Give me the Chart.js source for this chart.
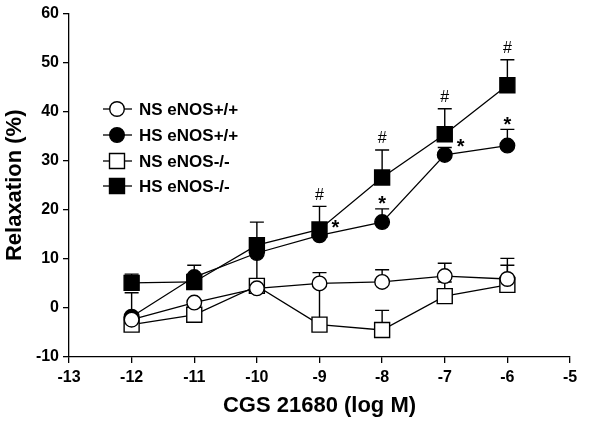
<!DOCTYPE html>
<html>
<head>
<meta charset="utf-8">
<script src="https://cdn.jsdelivr.net/npm/chart.js@4.4.0/dist/chart.umd.min.js"></script>
<style>
  html, body { margin: 0; padding: 0; background: #fff; }
  #wrap { width: 600px; height: 425px; }
</style>
</head>
<body>
<div id="wrap"><canvas id="relaxChart" width="600" height="425"></canvas></div>
<script>
// concentrations (log M)
const doses = [-12, -11, -10, -9, -8, -7, -6];
const seriesNames = ['NS eNOS+/+', 'HS eNOS+/+', 'NS eNOS-/-', 'HS eNOS-/-'];

// mean relaxation (%)
const nsWild = [-2.4, 1.1, 4.0, 5.0, 5.3, 6.5, 5.9];
const hsWild = [-1.8, 6.3, 11.2, 14.8, 17.5, 31.2, 33.1];
const nsKo = [-3.4, -1.4, 4.5, -3.4, -4.5, 2.4, 4.7];
const hsKo = [5.1, 5.3, 12.8, 16.0, 26.6, 35.4, 45.4];

// SEM (upper error bars)
const nsWildSem = [0.5, 0.5, 0.5, 2.2, 2.5, 2.6, 4.2];
const hsWildSem = [4.9, 2.4, 1.0, 1.0, 2.7, 1.5, 3.3];
const nsKoSem = [0.5, 0.5, 7.0, 8.0, 4.0, 2.9, 4.0];
const hsKoSem = [1.8, 1.0, 4.7, 4.7, 5.6, 5.2, 5.2];

// significance marks: '#' on HS eNOS-/-, '*' on HS eNOS+/+
const hashMarks = [false, false, false, true, true, true, true];
const starMarks = ['', '', '', 'right', 'top', 'right', 'top'];

const FONT = "'Liberation Sans', Arial, Helvetica, sans-serif";

const toPoints = (vals) => vals.map((v, i) => ({ x: doses[i], y: v }));

const makeSet = (label, vals, sem, filled, shape) => ({
  label,
  data: toPoints(vals),
  sem,
  borderColor: '#000',
  backgroundColor: filled ? '#000' : '#fff',
  pointBackgroundColor: filled ? '#000' : '#fff',
  pointBorderColor: '#000',
  pointBorderWidth: 1.4,
  pointStyle: shape,
  pointRadius: shape === 'rect' ? 10.6 : 7.3,
  borderWidth: 1.3,
  tension: 0,
  fill: false,
});

const datasets = [
  makeSet(seriesNames[0], nsWild, nsWildSem, false, 'circle'),
  makeSet(seriesNames[1], hsWild, hsWildSem, true, 'circle'),
  makeSet(seriesNames[2], nsKo, nsKoSem, false, 'rect'),
  makeSet(seriesNames[3], hsKo, hsKoSem, true, 'rect'),
];

// error bars under the markers
const errorBars = {
  id: 'errorBars',
  beforeDatasetsDraw(chart) {
    const { ctx } = chart;
    const xs = chart.scales.x;
    const ys = chart.scales.y;
    ctx.save();
    ctx.strokeStyle = '#000';
    ctx.lineWidth = 1.4;
    chart.data.datasets.forEach((ds) => {
      ds.data.forEach((p, i) => {
        const s = ds.sem[i];
        if (!s) return;
        const px = xs.getPixelForValue(p.x);
        const py = ys.getPixelForValue(p.y);
        const top = ys.getPixelForValue(p.y + s);
        ctx.beginPath();
        ctx.moveTo(px, py);
        ctx.lineTo(px, top);
        ctx.moveTo(px - 7, top);
        ctx.lineTo(px + 7, top);
        ctx.stroke();
      });
    });
    ctx.restore();
  },
};

// '#' and '*' marks
const sigMarks = {
  id: 'sigMarks',
  afterDatasetsDraw(chart) {
    const { ctx } = chart;
    const xs = chart.scales.x;
    const ys = chart.scales.y;
    ctx.save();
    ctx.fillStyle = '#000';
    ctx.textAlign = 'center';
    ctx.textBaseline = 'middle';
    doses.forEach((d, i) => {
      const px = xs.getPixelForValue(d);
      if (hashMarks[i]) {
        ctx.font = `16px ${FONT}`;
        ctx.fillText('#', px, ys.getPixelForValue(hsKo[i] + hsKoSem[i]) - 11);
      }
      if (starMarks[i]) {
        ctx.font = `bold 20px ${FONT}`;
        if (starMarks[i] === 'top') {
          ctx.fillText('*', px, ys.getPixelForValue(hsWild[i] + hsWildSem[i]) - 4);
        } else {
          ctx.fillText('*', px + 16, ys.getPixelForValue(hsWild[i]) - 7);
        }
      }
    });
    ctx.restore();
  },
};

// legend with a line through each marker, inside the plot
const lineLegend = {
  id: 'lineLegend',
  afterDraw(chart) {
    const { ctx } = chart;
    const cx = 117;
    const rows = [109, 135, 161, 186];
    ctx.save();
    chart.data.datasets.forEach((ds, i) => {
      const y = rows[i];
      ctx.strokeStyle = '#000';
      ctx.lineWidth = 1.3;
      ctx.beginPath();
      ctx.moveTo(cx - 14, y);
      ctx.lineTo(cx + 15, y);
      ctx.stroke();
      ctx.fillStyle = ds.pointBackgroundColor;
      ctx.lineWidth = 1.4;
      Chart.helpers.drawPoint(ctx, {
        pointStyle: ds.pointStyle,
        radius: ds.pointRadius,
        rotation: 0,
        borderWidth: 1.4,
      }, cx, y);
      ctx.fillStyle = '#000';
      ctx.font = `bold 17px ${FONT}`;
      ctx.textAlign = 'left';
      ctx.textBaseline = 'middle';
      ctx.fillText(ds.label, cx + 22, y + 1);
    });
    ctx.restore();
  },
};

const tickFont = { family: FONT, size: 16, weight: 'bold' };
const titleFont = { family: FONT, size: 22, weight: 'bold' };

new Chart(document.getElementById('relaxChart'), {
  type: 'line',
  data: { datasets },
  plugins: [errorBars, sigMarks, lineLegend],
  options: {
    responsive: false,
    animation: false,
    layout: { padding: { top: 12, right: 30, left: 0, bottom: 0 } },
    plugins: {
      legend: { display: false },
      tooltip: { enabled: false },
    },
    scales: {
      x: {
        type: 'linear',
        min: -13,
        max: -5,
        ticks: { stepSize: 1, color: '#000', font: tickFont, padding: 5 },
        grid: { drawOnChartArea: false, drawTicks: true, tickLength: 6, color: '#000', lineWidth: 1.3 },
        border: { color: '#000', width: 1.3 },
        title: { display: true, text: 'CGS 21680 (log M)', color: '#000', font: titleFont, padding: { top: 0, bottom: 6 } },
        afterFit(scale) { scale.height = 68; },
      },
      y: {
        min: -10,
        max: 60,
        ticks: { stepSize: 10, color: '#000', font: tickFont, padding: 4 },
        grid: { drawOnChartArea: false, drawTicks: true, tickLength: 6, color: '#000', lineWidth: 1.3 },
        border: { color: '#000', width: 1.3 },
        title: { display: true, text: 'Relaxation (%)', color: '#000', font: titleFont, padding: { top: 2, bottom: 0 } },
        afterFit(scale) { scale.width = 69; },
      },
    },
  },
});
</script>
</body>
</html>
